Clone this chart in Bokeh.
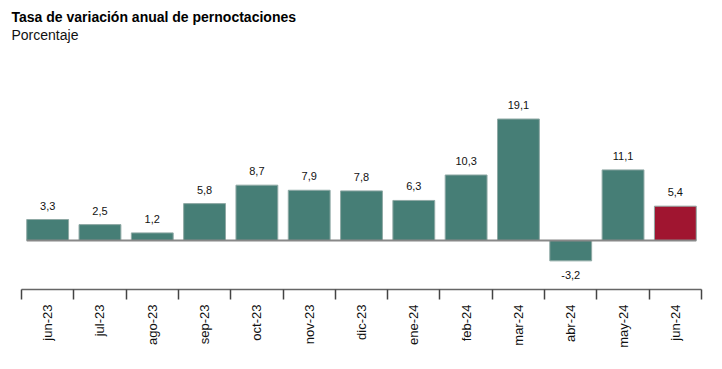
import math
from bokeh.plotting import figure
from bokeh.models import Range1d, FixedTicker, LinearAxis, Title, ColumnDataSource
from bokeh.embed import file_html
from bokeh.resources import INLINE
from bokeh.core.properties import value

months = ["jun-23", "jul-23", "ago-23", "sep-23", "oct-23", "nov-23", "dic-23",
          "ene-24", "feb-24", "mar-24", "abr-24", "may-24", "jun-24"]
values = [3.3, 2.5, 1.2, 5.8, 8.7, 7.9, 7.8, 6.3, 10.3, 19.1, -3.2, 11.1, 5.4]

TEAL = "#467e76"
RED = "#a01530"
FONT = "Liberation Sans"

n = len(months)
xs = list(range(n))
colors = [TEAL] * (n - 1) + [RED]
labels = [f"{v:.1f}".replace(".", ",") for v in values]

p = figure(width=706, height=358, output_backend="svg", toolbar_location=None,
           x_range=Range1d(-0.5, n - 0.5), y_range=Range1d(-7.7, 32.07),
           x_axis_type=None, y_axis_type=None,
           min_border_left=21, min_border_right=5, min_border_top=0,
           min_border_bottom=69)
p.outline_line_color = None
p.grid.visible = False
p.background_fill_color = "white"
p.border_fill_color = "white"

try:
    sub = Title(text="Porcentaje", text_font=FONT, text_font_size="14px",
                text_font_style="normal", text_color="#111111", offset=-10, standoff=-12)
except Exception:
    sub = Title(text="Porcentaje", text_font=FONT, text_font_size="14px",
                text_font_style="normal", text_color="#111111", offset=-10, standoff=0)
main = Title(text="Tasa de variación anual de pernoctaciones", text_font=FONT,
             text_font_size="14px", text_font_style="bold", text_color="#000000",
             offset=-10, standoff=12)
p.add_layout(sub, "above")
p.add_layout(main, "above")

src = ColumnDataSource(dict(x=xs, top=values, color=colors))
p.vbar(x="x", top="top", bottom=0, width=0.8, fill_color="color",
       line_color="#8fa9a5", line_width=1, source=src)

p.line(x=[xs[0] - 0.4, xs[-1] + 0.4], y=[0, 0], line_color="#888888", line_width=2)

pos = [i for i, v in enumerate(values) if v >= 0]
neg = [i for i, v in enumerate(values) if v < 0]
p.text(x=[xs[i] for i in pos], y=[values[i] for i in pos], text=[labels[i] for i in pos],
       text_align="center", text_baseline="bottom", y_offset=-10,
       text_font=value(FONT), text_font_size="11px", text_color="#111111")
p.text(x=[xs[i] for i in neg], y=[values[i] for i in neg], text=[labels[i] for i in neg],
       text_align="center", text_baseline="top", y_offset=10,
       text_font=value(FONT), text_font_size="11px", text_color="#111111")

ax = LinearAxis(ticker=FixedTicker(ticks=xs, minor_ticks=[i - 0.5 for i in range(n + 1)]))
ax.major_label_overrides = {i: m for i, m in enumerate(months)}
ax.major_label_orientation = math.pi / 2
ax.major_label_text_font = FONT
ax.major_label_text_font_size = "13px"
ax.major_label_text_color = "#111111"
ax.major_label_standoff = 5
ax.major_tick_out = 0
ax.major_tick_in = 0
ax.minor_tick_out = 10
ax.minor_tick_in = 0
ax.minor_tick_line_color = "#444444"
ax.minor_tick_line_width = 1.5
ax.axis_line_color = "#666666"
ax.axis_line_width = 1.5
p.add_layout(ax, "below")

open("out.html", "w").write(file_html(p, INLINE))
